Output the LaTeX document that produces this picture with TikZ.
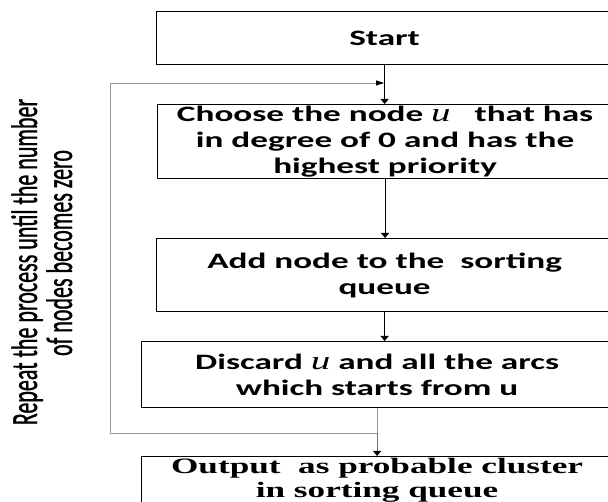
\documentclass[tikz,border=0pt]{standalone}
\usepackage{fontspec}
\usepackage{graphicx}
\setmainfont{Carlito}[FakeStretch=1.6]
\newfontfamily\timesfont{Liberation Serif}[FakeStretch=1.6]
\newfontfamily\varfont{Liberation Serif}[FakeStretch=1.5]
\newfontfamily\rotfont{Carlito}[FakeBold=1.2]
\usetikzlibrary{arrows.meta}
\newcommand\uvar{{\varfont\itshape\mdseries\fontsize{26}{26}\selectfont u}}
\newcommand\rottext[1]{\rotfont\fontsize{22}{22}\selectfont\scalebox{1}[1.68]{#1}}
\begin{document}
\begin{tikzpicture}[x=1pt,y=-1pt,
  box/.style={draw=black, line width=1.2pt, anchor=north west, inner sep=0pt,
    align=center, font=\fontsize{22}{26}\selectfont\bfseries},
  note/.style={rotate=90, anchor=base, inner sep=0pt},
  vlink/.style={line width=0.9pt, -{Triangle[length=5pt,width=8pt]}},
  fbline/.style={line width=0.9pt, draw=black!40},
  hlink/.style={fbline, -{Triangle[length=8pt,width=5pt,color=black]}},
  outlink/.style={line width=0.9pt, draw=black!55, -{Triangle[length=5pt,width=8pt,color=black]}}]
\useasboundingbox (0,0) rectangle (608,502);
\clip (0,0) rectangle (608,502);

\node[box, minimum width=456pt, minimum height=53pt] (start) at (156,11) {Start};
\node[box, minimum width=455pt, minimum height=74pt] (choose) at (157,104)
  {Choose the node \uvar\ \ \ that has\\in degree of 0 and has the\\highest priority};
\node[box, minimum width=456pt, minimum height=73pt] (add) at (156,238)
  {Add node to the \ sorting\\queue};
\node[box, minimum width=471pt, minimum height=66pt] (discard) at (141,341)
  {Discard \uvar{} and all the arcs\\which starts from u};
\node[box, minimum width=471pt, minimum height=48pt,
  font=\fontsize{22}{24}\selectfont\timesfont\bfseries] (output) at (141,456)
  {Output \ as probable cluster\\in sorting queue};

\node[note] (note1) at (37,262) {\rottext{Repeat the process until the number}};
\node[note] (note2) at (72,253) {\rottext{of nodes becomes zero}};

\draw[vlink] (start.south) -- (start.south |- choose.north);
\draw[vlink] (choose.south) -- (choose.south |- add.north);
\draw[vlink] (add.south) -- (add.south |- discard.north);

\coordinate (jy) at (0,433);
\coordinate (j) at (discard.south |- jy);
\coordinate (c1) at (110,433);
\coordinate (c2) at (110,83);
\coordinate (c3) at ([xshift=-0.5pt]start.south |- c2);
\draw[fbline] (discard.south) -- (j);
\draw[outlink] (j) -- (output.north);
\draw[hlink] (j) -- (c1) -- (c2) -- (c3);
\end{tikzpicture}
\end{document}
